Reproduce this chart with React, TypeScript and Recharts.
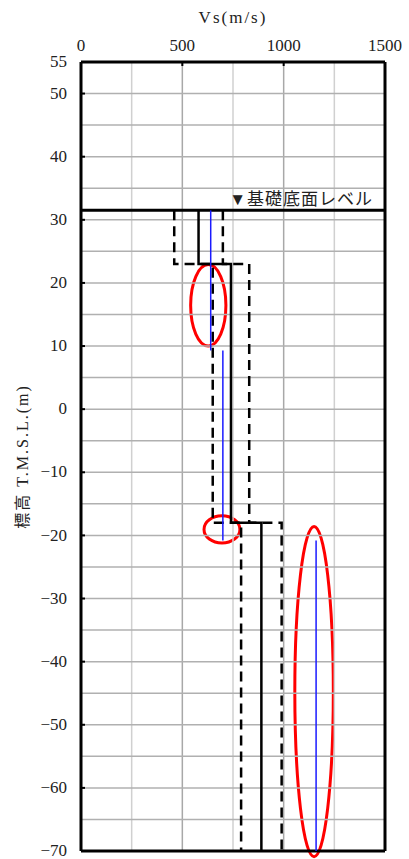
import { ScatterChart, Scatter, XAxis, YAxis, ReferenceLine, ReferenceArea } from "recharts";

// axis ticks and grid
const vsTicks = [0, 500, 1000, 1500];
const elevTicks = [55, 50, 40, 30, 20, 10, 0, -10, -20, -30, -40, -50, -60, -70];
const vsGridMajor = [500, 1000];
const vsGridMinor = [250, 750, 1250];
const elevGrid = [50, 45, 40, 35, 30, 25, 20, 15, 10, 5, 0, -5, -10, -15, -20, -25, -30, -35, -40, -45, -50, -55, -60, -65];

// foundation level (T.M.S.L. m)
const foundationLevel = 31.5;

// model layers: boundaries (m) and Vs (m/s)
const layerBounds = [31.5, 23, -18, -70];
const vsModel = [580, 740, 890];
const vsLower = [460, 650, 790];
const vsUpper = [700, 830, 990];

// blue Vs segments
const measuredVs = [640, 700, 1160];
const measuredBounds = [31.5, 9.3, -20.8, -70];

// highlighted regions (Vs range, elevation range)
const ellipseVs = [[541, 715], [607, 784], [1055, 1245]];
const ellipseEl = [[22.9, 10], [-16.9, -21.2], [-18.6, -70.9]];

const FONT = '"Liberation Serif", "Noto Sans CJK JP", serif';

function steps(vs: number[]) {
  const pts: { vs: number; el: number }[] = [];
  vs.forEach((v, i) => {
    pts.push({ vs: v, el: layerBounds[i] });
    pts.push({ vs: v, el: layerBounds[i + 1] });
  });
  return pts;
}

const modelPts = steps(vsModel);
const lowerPts = steps(vsLower);
const upperPts = steps(vsUpper);
const measuredSegs = measuredVs.map((v, i) => [
  { vs: v, el: measuredBounds[i] },
  { vs: v, el: measuredBounds[i + 1] },
]);

const noDot = () => <g />;

const XTick = ({ x, y, payload }: any) => (
  <g>
    <text x={x} y={y} textAnchor="middle" fontSize={17} fontFamily={FONT} fill="#222">
      {payload.value}
    </text>
    <line x1={x} x2={x} y1={y + 11} y2={y + 15} stroke="#000" strokeWidth={2} />
  </g>
);

const YTick = ({ x, y, payload }: any) => (
  <g>
    <text x={x} y={y} dy="0.3em" textAnchor="end" fontSize={17} fontFamily={FONT} fill="#222">
      {String(payload.value).replace("-", "\u2212")}
    </text>
    <line x1={x + 14} x2={x + 18} y1={y} y2={y} stroke="#000" strokeWidth={2} />
  </g>
);

const EllipseShape = (p: any) => (
  <ellipse
    cx={p.x + p.width / 2}
    cy={p.y + p.height / 2}
    rx={Math.abs(p.width) / 2}
    ry={Math.abs(p.height) / 2}
    fill="none"
    stroke="#ff0000"
    strokeWidth={3}
  />
);

const GroundLabel = ({ viewBox }: any) => (
  <text
    x={viewBox.x + viewBox.width - 12}
    y={viewBox.y - 5}
    textAnchor="end"
    fontSize={17}
    letterSpacing={1}
    fontFamily={FONT}
    fill="#222"
  >
    ▼基礎底面レベル
  </text>
);

export default function App() {
  return (
    <div style={{ position: "absolute", left: 0, top: 0 }}>
      <ScatterChart width={409} height={859} margin={{ top: 0, right: 24, bottom: 8, left: 0 }}>
        <XAxis
          type="number"
          dataKey="vs"
          orientation="top"
          domain={[0, 1500]}
          ticks={vsTicks}
          height={62}
          tickSize={8}
          tickMargin={3}
          tickLine={false}
          axisLine={{ stroke: "#000", strokeWidth: 3 }}
          tick={<XTick />}
          label={{
            value: "Vs(m/s)",
            position: "insideTop",
            offset: 11,
            fontSize: 17,
            fontFamily: FONT,
            fill: "#222",
            style: { letterSpacing: "2px" },
          }}
        />
        <YAxis
          type="number"
          dataKey="el"
          domain={[-70, 55]}
          ticks={elevTicks}
          width={81}
          tickSize={8}
          tickMargin={6}
          tickLine={false}
          interval={0}
          allowDataOverflow
          axisLine={{ stroke: "#000", strokeWidth: 3 }}
          tick={<YTick />}
          label={{
            value: "標高 T.M.S.L.(m)",
            angle: -90,
            position: "insideLeft",
            offset: 22,
            fontSize: 16,
            fontFamily: FONT,
            fill: "#222",
            style: { textAnchor: "middle", letterSpacing: "2px" },
          }}
        />
        {vsGridMinor.map((v) => (
          <ReferenceLine key={"gm" + v} x={v} stroke="#d0d0d0" strokeWidth={1.5} />
        ))}
        {vsGridMajor.map((v) => (
          <ReferenceLine key={"gM" + v} x={v} stroke="#a8a8a8" strokeWidth={1.5} />
        ))}
        {elevGrid.map((e) => (
          <ReferenceLine key={"ge" + e} y={e} stroke="#b0b0b0" strokeWidth={1.5} />
        ))}
        <Scatter
          data={lowerPts}
          isAnimationActive={false}
          shape={noDot}
          line={{ stroke: "#000", strokeWidth: 2.5, strokeDasharray: "10 6" }}
        />
        <Scatter
          data={upperPts}
          isAnimationActive={false}
          shape={noDot}
          line={{ stroke: "#000", strokeWidth: 2.5, strokeDasharray: "10 6" }}
        />
        <Scatter
          data={modelPts}
          isAnimationActive={false}
          shape={noDot}
          line={{ stroke: "#000", strokeWidth: 2.5 }}
        />
        {measuredSegs.map((seg, i) => (
          <Scatter
            key={"m" + i}
            data={seg}
            isAnimationActive={false}
            shape={noDot}
            line={{ stroke: "#1a1aff", strokeWidth: 1.5 }}
          />
        ))}
        {ellipseVs.map((v, i) => (
          <ReferenceArea
            key={"el" + i}
            x1={v[0]}
            x2={v[1]}
            y1={ellipseEl[i][0]}
            y2={ellipseEl[i][1]}
            ifOverflow="visible"
            shape={EllipseShape}
          />
        ))}
        <ReferenceLine y={foundationLevel} stroke="#000" strokeWidth={3} label={<GroundLabel />} />
        <ReferenceLine x={1500} stroke="#000" strokeWidth={3} />
        <ReferenceLine y={-70} stroke="#000" strokeWidth={3} />
      </ScatterChart>
    </div>
  );
}
